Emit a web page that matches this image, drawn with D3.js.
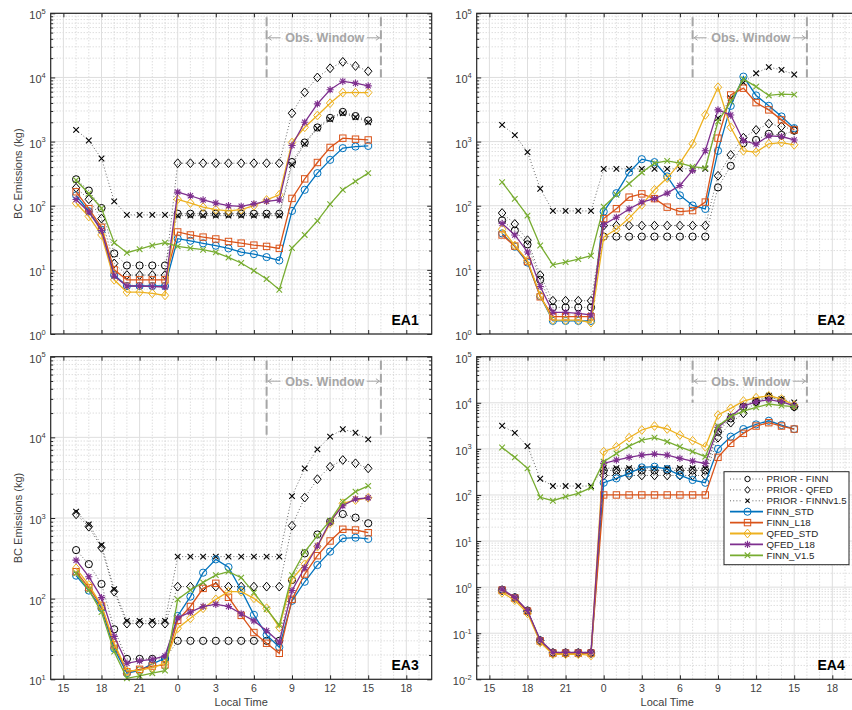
<!DOCTYPE html>
<html><head><meta charset="utf-8">
<script src="https://cdn.jsdelivr.net/npm/d3@7"></script>
<style>body{margin:0;background:#fff;} svg{display:block;font-family:"Liberation Sans",Arial,Helvetica,sans-serif;}</style>
</head><body><svg id="c" width="852" height="710"></svg>
<script>
// ---------------- DATA ----------------
const hours = [16,17,18,19,20,21,22,23,24,25,26,27,28,29,30,31,32,33,34,35,36,37,38,39];
const xTickValues = [15,18,21,24,27,30,33,36,39,42];
const xTickLabels = ["15","18","21","0","3","6","9","12","15","18"];
const seriesNames = ["PRIOR - FINN","PRIOR - QFED","PRIOR - FINNv1.5","FINN_STD","FINN_L18","QFED_STD","QFED_L18","FINN_V1.5"];
const panelNames = ["EA1","EA2","EA3","EA4"];
const panelYDomains = [[1,1e5],[1,1e5],[10,1e5],[0.01,1e5]];
const obsWindow = [31,40];

// EA1
const ea1PriorFinn   = [258,172,92,18,11.7,11.7,11.7,11.7, 75,75,75,75,75,75,75,75,75, 480,966,1660,2340,2900,2500,2130];
const ea1PriorQfed   = [190,126,63,12.6,8.3,8.3,8.3,8.3, 460,460,460,460,460,460,460,460,460, 2770,5860,10000,13900,17500,15100,12500];
const ea1PriorFinn15 = [1520,1040,545,117,72,72,72,72, 70,70,70,70,70,70,70,70,70, 435,922,1600,2220,2770,2400,1990];
const ea1FinnStd     = [145,82,42,8.3,5.6,5.6,5.6,5.6, 30.6,28.4,25.9,23.8,21.6,18.9,17.6,15.8,14.0, 83,177,322,519,790,837,855];
const ea1FinnL18     = [165,90,46,10,7,7,7,7, 39,35,32.4,30.3,27.7,26.1,24.3,23.2,21.6, 130,262,472,810,1130,1090,1060];
const ea1QfedStd     = [110,68,35,7,4.5,4.5,4.3,4.0, 126,110,95,87,83,87,100,123,148, 966,1670,2550,3970,5800,5800,5800];
const ea1QfedL18     = [125,80,41,8,5.6,5.6,5.5,5.4, 163,143,123,110,100,98,107,117,123, 870,2000,3870,6440,8700,8130,7390];
const ea1FinnV15     = [250,155,91,26.5,18.5,21,24,26.5, 23.2,21.8,20.6,18.7,15.6,12.8,9.7,7.2,4.9, 21.9,35,58,106,177,240,322];

// EA2
const ea2PriorFinn   = [59,41,25,7,2.6,2.6,2.6,2.6, 33,33,33,33,33,33,33,33,33, 193,418,944,1060,1320,1270,1480];
const ea2PriorQfed   = [77,52,29,8.3,3.3,3.3,3.3,3.3, 49,49,49,49,49,49,49,49,49, 293,620,1150,1520,1900,1720,1520];
const ea2PriorFinn15 = [1820,1260,684,184,83,83,83,83, 376,376,376,376,376,376,376,376,376, 2320,4740,8300,11600,14500,13100,11100];
const ea2FinnStd     = [37,23,13,3.9,1.6,1.6,1.6,1.6, 81,157,330,532,478,286,145,101,89, 718,3600,10300,5240,3610,2460,1620];
const ea2FinnL18     = [35,23.5,13.5,3.8,1.86,1.86,1.86,1.86, 63,90,136,153,129,95,81,84,114, 1130,5330,6800,4050,3120,2180,1520];
const ea2QfedStd     = [43,24,14,4,1.65,1.65,1.65,1.5, 32.5,43,64,103,177,270,460,922,2610, 7030,1670,718,684,922,966,890];
const ea2QfedL18     = [53,35,19,5.5,2.18,2.18,2.1,1.98, 50.5,66,89,114,129,157,207,355,718, 3120,2590,1030,913,1230,1200,1060];
const ea2FinnV15     = [233,128,70,24,12,13.2,14.7,16.6, 97,148,220,330,460,500,460,407,385, 2050,4200,9400,7200,5240,5500,5400];

// EA3
const ea3PriorFinn   = [400,268,152,41.7,17.9,17.9,17.9,17.9, 30,30,30,30,30,30,30,30,30, 170,364,625,900,1120,1010,860];
const ea3PriorQfed   = [1110,780,427,122,49,49,49,49, 141,141,141,141,141,141,141,141,141, 803,1790,3030,4320,5240,4770,4130];
const ea3PriorFinn15 = [1200,830,462,131,53,53,53,53, 332,332,332,332,332,332,332,332,332, 1870,4130,7100,10200,12600,11400,9450];
const ea3FinnStd     = [193,126,76,24,11.9,12.9,15.5,18.2, 61,106,210,307,246,128,63,35.5,25, 94,162,261,383,560,570,550];
const ea3FinnL18     = [216,137,81,26.7,12.4,13.3,14.6,15.1, 54,80,134,155,104,62,38,28,21, 98,202,341,519,725,710,657];
const ea3QfedStd     = [238,148,83,28,12.7,12.9,14,15.8, 43,57,76,98,122,122,101,76,44, 174,267,442,860,1520,1670,1780];
const ea3QfedL18     = [300,187,103,34,15.8,16.9,17.7,19.5, 58,68,80,85,80,65,53,40,29, 126,242,450,900,1420,1720,1780];
const ea3FinnV15     = [206,128,68,22,10.3,11,11.9,12.8, 98,128,159,196,216,182,119,74,47, 196,381,604,927,1590,2120,2500];

// EA4
const ea4PriorFinn   = [0.88,0.6,0.31,0.07,0.038,0.038,0.038,0.038, 340,340,340,340,340,340,340,340,340, 2350,4600,8200,10500,13500,11000,8200];
const ea4PriorQfed   = [0.85,0.58,0.3,0.068,0.037,0.037,0.037,0.037, 265,265,265,265,265,265,265,265,265, 1750,3700,5900,10500,13500,11000,8200];
const ea4PriorFinn15 = [3170,2230,1150,225,156,156,156,156, 380,380,380,380,380,380,380,380,380, 2570,5150,8500,11500,14200,12100,10200];
const ea4FinnStd     = [0.87,0.59,0.3,0.069,0.037,0.037,0.037,0.037, 184,229,294,396,410,365,270,211,184, 1000,1840,2690,3390,4070,3290,2690];
const ea4FinnL18     = [0.86,0.58,0.3,0.068,0.037,0.037,0.037,0.037, 100,100,100,100,100,100,100,100,100, 655,1320,2170,3130,3700,3130,2690];
const ea4QfedStd     = [0.76,0.52,0.27,0.063,0.035,0.035,0.035,0.033, 870,1110,1750,2570,3130,2700,2000,1500,1110, 5420,7580,10900,12900,14200,12100,8920];
const ea4QfedL18     = [0.9,0.6,0.31,0.071,0.0385,0.0385,0.0385,0.0385, 484,572,654,735,773,735,622,544,484, 2920,5000,8530,10500,11700,10500,8700];
const ea4FinnV15     = [1070,654,378,89,75,92,108,144, 526,795,1150,1550,1750,1430,1110,870,676, 3130,5000,6620,7940,9400,8700,8230];

const panelSeries = [
  [ea1PriorFinn,ea1PriorQfed,ea1PriorFinn15,ea1FinnStd,ea1FinnL18,ea1QfedStd,ea1QfedL18,ea1FinnV15],
  [ea2PriorFinn,ea2PriorQfed,ea2PriorFinn15,ea2FinnStd,ea2FinnL18,ea2QfedStd,ea2QfedL18,ea2FinnV15],
  [ea3PriorFinn,ea3PriorQfed,ea3PriorFinn15,ea3FinnStd,ea3FinnL18,ea3QfedStd,ea3QfedL18,ea3FinnV15],
  [ea4PriorFinn,ea4PriorQfed,ea4PriorFinn15,ea4FinnStd,ea4FinnL18,ea4QfedStd,ea4QfedL18,ea4FinnV15]
];

// ---------------- STYLE ----------------
const seriesColors  = ["#000000","#000000","#000000","#0072BD","#D95319","#EDB120","#7E2F8E","#77AC30"];
const seriesMarkers = ["circle","diamond","x","circle","square","diamond","asterisk","x"];
const seriesDotted  = [true,true,true,false,false,false,false,false];
const axisColor = "#262626";
const colLeft = [50.7, 476.7], colWidth = 381;
const rowTop = [13.3, 356.7], rowBottom = [334, 679.3];

const svg = d3.select("#c");

function marker(g, type, cx, cy, color, k){
  k = k || 1;
  if(type==="circle"){
    g.append("circle").attr("cx",cx).attr("cy",cy).attr("r",3.6*k).attr("fill","none").attr("stroke",color).attr("stroke-width",1);
  } else if(type==="square"){
    const h=3.2*k;
    g.append("rect").attr("x",cx-h).attr("y",cy-h).attr("width",2*h).attr("height",2*h).attr("fill","none").attr("stroke",color).attr("stroke-width",1);
  } else if(type==="diamond"){
    const s=4.4*k;
    g.append("path").attr("d",`M${cx},${cy-s}L${cx+s*0.85},${cy}L${cx},${cy+s}L${cx-s*0.85},${cy}Z`).attr("fill","none").attr("stroke",color).attr("stroke-width",1);
  } else if(type==="x"){
    const s=2.8*k;
    g.append("path").attr("d",`M${cx-s},${cy-s}L${cx+s},${cy+s}M${cx-s},${cy+s}L${cx+s},${cy-s}`).attr("stroke",color).attr("stroke-width",1.1);
  } else if(type==="asterisk"){
    const s=3.6*k, d=2.6*k;
    g.append("path").attr("d",`M${cx-s},${cy}L${cx+s},${cy}M${cx},${cy-s}L${cx},${cy+s}M${cx-d},${cy-d}L${cx+d},${cy+d}M${cx-d},${cy+d}L${cx+d},${cy-d}`).attr("stroke",color).attr("stroke-width",1.1);
  }
}

panelNames.forEach((name,i)=>{
  const col=i%2, row=Math.floor(i/2);
  const L=colLeft[col], R=L+colWidth, T=rowTop[row], B=rowBottom[row];
  const x=d3.scaleLinear().domain([14,44]).range([L,R]);
  const y=d3.scaleLog().domain(panelYDomains[i]).range([B,T]);
  const g=svg.append("g");
  const e0=Math.round(Math.log10(panelYDomains[i][0])), e1=Math.round(Math.log10(panelYDomains[i][1]));
  const majorY=d3.range(e0,e1+1).map(e=>Math.pow(10,e));
  const minorY=[]; for(let e=e0;e<e1;e++) for(let m=2;m<=9;m++) minorY.push(m*Math.pow(10,e));
  const minorX=d3.range(15,44).filter(h=>!xTickValues.includes(h));

  // minor grid
  g.append("g").selectAll("line").data(minorY).join("line")
    .attr("x1",L).attr("x2",R).attr("y1",d=>y(d)).attr("y2",d=>y(d))
    .attr("stroke","#c4c4c4").attr("stroke-width",0.8).attr("stroke-dasharray","1,2");
  g.append("g").selectAll("line").data(minorX).join("line")
    .attr("x1",d=>x(d)).attr("x2",d=>x(d)).attr("y1",T).attr("y2",B)
    .attr("stroke","#c4c4c4").attr("stroke-width",0.8).attr("stroke-dasharray","1,2");
  // major grid
  g.append("g").selectAll("line").data(majorY).join("line")
    .attr("x1",L).attr("x2",R).attr("y1",d=>y(d)).attr("y2",d=>y(d))
    .attr("stroke","#dedede").attr("stroke-width",1);
  g.append("g").selectAll("line").data(xTickValues).join("line")
    .attr("x1",d=>x(d)).attr("x2",d=>x(d)).attr("y1",T).attr("y2",B)
    .attr("stroke","#dedede").attr("stroke-width",1);

  // obs window
  const ow=g.append("g");
  obsWindow.forEach(h=>{
    ow.append("line").attr("x1",x(h)).attr("x2",x(h)).attr("y1",T+4).attr("y2",y(1e4))
      .attr("stroke","#a6a6a6").attr("stroke-width",2).attr("stroke-dasharray","9,4");
  });
  const xa=x(obsWindow[0]), xb=x(obsWindow[1]), ty=T+24.5, mid=(xa+xb)/2;
  ow.append("text").attr("x",mid+1).attr("y",ty).attr("dy","0.36em").attr("text-anchor","middle")
    .attr("font-size",12.5).attr("font-weight","bold").attr("fill","#a6a6a6").text("Obs. Window");
  ow.append("path").attr("d",`M${xa+1},${ty}L${xa+14},${ty}M${xa+5},${ty-2.5}L${xa+1.5},${ty}L${xa+5},${ty+2.5}`)
    .attr("stroke","#a6a6a6").attr("stroke-width",1).attr("fill","none");
  ow.append("path").attr("d",`M${xb-1},${ty}L${xb-14},${ty}M${xb-5},${ty-2.5}L${xb-1.5},${ty}L${xb-5},${ty+2.5}`)
    .attr("stroke","#a6a6a6").attr("stroke-width",1).attr("fill","none");

  // data
  const line=d3.line().x((d,k)=>x(hours[k])).y(d=>y(d));
  panelSeries[i].forEach((vals,s)=>{
    const sg=g.append("g");
    sg.append("path").attr("d",line(vals)).attr("fill","none")
      .attr("stroke",seriesDotted[s]?"#555":seriesColors[s])
      .attr("stroke-width",seriesDotted[s]?0.9:1.3)
      .attr("stroke-dasharray",seriesDotted[s]?"1,2.2":null);
    vals.forEach((v,k)=>marker(sg,seriesMarkers[s],x(hours[k]),y(v),seriesColors[s]));
  });

  // axes (inward ticks)
  const ax=g.append("g").attr("color",axisColor);
  ax.append("g").attr("transform",`translate(0,${B})`)
    .call(d3.axisBottom(x).tickValues(xTickValues).tickSizeInner(-4).tickSizeOuter(0).tickFormat(""));
  ax.append("g").attr("transform",`translate(0,${T})`)
    .call(d3.axisTop(x).tickValues(xTickValues).tickSizeInner(-4).tickSizeOuter(0).tickFormat(""));
  ax.append("g").attr("transform",`translate(${L},0)`)
    .call(d3.axisLeft(y).tickValues(majorY).tickSizeInner(-4.5).tickSizeOuter(0).tickFormat(""));
  ax.append("g").attr("transform",`translate(${L},0)`)
    .call(d3.axisLeft(y).tickValues(minorY).tickSizeInner(-2.5).tickSizeOuter(0).tickFormat(""));
  ax.append("g").attr("transform",`translate(${R},0)`)
    .call(d3.axisRight(y).tickValues(majorY).tickSizeInner(-4.5).tickSizeOuter(0).tickFormat(""));
  ax.append("g").attr("transform",`translate(${R},0)`)
    .call(d3.axisRight(y).tickValues(minorY).tickSizeInner(-2.5).tickSizeOuter(0).tickFormat(""));
  ax.selectAll(".domain").remove();
  ax.selectAll("line").attr("stroke-width",1);
  ax.append("rect").attr("x",L).attr("y",T).attr("width",R-L).attr("height",B-T)
    .attr("fill","none").attr("stroke",axisColor).attr("stroke-width",1.2);

  // y tick labels with superscripts
  majorY.forEach(v=>{
    const e=Math.round(Math.log10(v));
    const t=g.append("text").attr("x",L-5).attr("y",y(v)+6).attr("text-anchor","end")
      .attr("font-size",11).attr("fill","#404040");
    t.append("tspan").text("10");
    t.append("tspan").attr("dy",-5.5).attr("font-size",7.5).text(String(e));
  });
  // x tick labels (bottom row)
  if(row===1){
    xTickValues.forEach((v,k)=>{
      g.append("text").attr("x",x(v)).attr("y",B+9).attr("dy","0.35em").attr("text-anchor","middle")
        .attr("font-size",10.5).attr("fill","#404040").text(xTickLabels[k]);
    });
    g.append("text").attr("x",(L+R)/2).attr("y",B+22.5).attr("dy","0.35em").attr("text-anchor","middle")
      .attr("font-size",11).attr("fill","#404040").text("Local Time");
  }
  if(col===0){
    g.append("text").attr("transform",`translate(18,${(T+B)/2}) rotate(-90)`).attr("dy","0.35em")
      .attr("text-anchor","middle").attr("font-size",11).attr("fill","#404040").text("BC Emissions (kg)");
  }
  g.append("text").attr("x",R-13).attr("y",B-9).attr("text-anchor","end")
    .attr("font-size",14).attr("font-weight","bold").attr("fill","#000").text(name);

  // legend (EA4)
  if(i===3){
    const lg=g.append("g");
    const lx=R-133.7, ly=T+115, lw=125, lh=93;
    lg.append("rect").attr("x",lx).attr("y",ly).attr("width",lw).attr("height",lh)
      .attr("fill","#fff").attr("stroke","#262626").attr("stroke-width",1);
    seriesNames.forEach((nm,s)=>{
      const cy=ly+7.3+s*10.9;
      lg.append("line").attr("x1",lx+6).attr("x2",lx+39).attr("y1",cy).attr("y2",cy)
        .attr("stroke",seriesDotted[s]?"#555":seriesColors[s]).attr("stroke-width",seriesDotted[s]?0.9:1.8)
        .attr("stroke-dasharray",seriesDotted[s]?"1,2.2":null);
      lg.append("rect").attr("x",lx+17.5).attr("y",cy-4).attr("width",10).attr("height",8).attr("fill",seriesDotted[s]?"#fff":"none");
      marker(lg,seriesMarkers[s],lx+23.5,cy,seriesColors[s],seriesDotted[s]?0.75:1);
      lg.append("text").attr("x",lx+42.5).attr("y",cy).attr("dy","0.36em").attr("font-size",9.7)
        .attr("fill","#262626").text(nm);
    });
  }
});
</script></body></html>
